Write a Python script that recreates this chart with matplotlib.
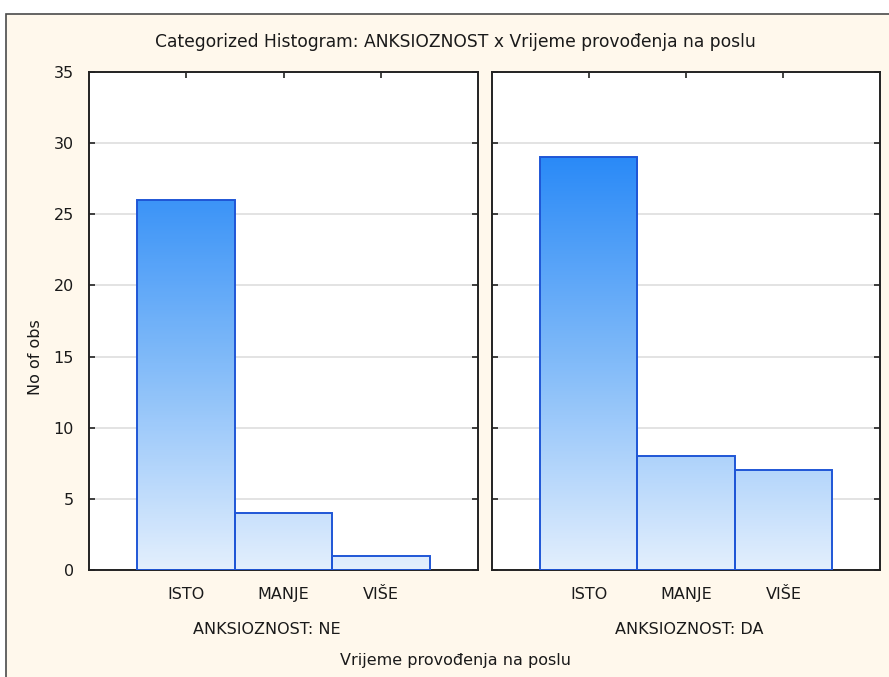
import numpy as np
import matplotlib
matplotlib.use("Agg")
import matplotlib.pyplot as plt
from matplotlib.colors import LinearSegmentedColormap
from matplotlib.patches import Rectangle

# Data
categories = ["ISTO", "MANJE", "VIŠE"]
counts_ne = [26, 4, 1]
counts_da = [29, 8, 7]
panel_labels = ["ANKSIOZNOST: NE", "ANKSIOZNOST: DA"]
yticks = [0, 5, 10, 15, 20, 25, 30, 35]

plt.rcParams["font.family"] = ["DejaVu Sans"]
plt.rcParams["font.size"] = 11.5
txt_color = "#1a1a1a"

# vertical gradient like the STATISTICA bars (light at 0, saturated at the tallest bar)
bar_cmap = LinearSegmentedColormap.from_list("statgrad", ["#e3effd", "#82bbf9", "#2a8af7"])
grad_top = max(counts_da + counts_ne)

fig = plt.figure(figsize=(8.89, 6.77), dpi=100)
fig.patch.set_facecolor("white")

# outer cream frame
frame = Rectangle((6 / 889, -0.05), 1.0, 1 - 14 / 677 + 0.05, transform=fig.transFigure,
                  facecolor="#fff8ec", edgecolor="#4a4a4a", linewidth=1.2, zorder=-5)
fig.patches.append(frame)

ax_ne = fig.add_axes([89 / 889, 1 - 570 / 677, (478 - 89) / 889, (570 - 72) / 677])
ax_da = fig.add_axes([492 / 889, 1 - 570 / 677, (880 - 492) / 889, (570 - 72) / 677])


def draw_panel(ax, counts, label, label_x, show_y):
    x = np.arange(len(categories))
    ax.set_facecolor("white")
    ax.set_yticks(yticks)
    ax.set_xticks(x)
    ax.set_xticklabels(categories, color=txt_color)
    ax.yaxis.grid(True, color="#dedede", linewidth=1.2, zorder=0)
    ax.set_axisbelow(True)
    for xi, h in zip(x, counts):
        grad = np.linspace(0, h / grad_top, 256).reshape(-1, 1)
        im = ax.imshow(grad, extent=(xi - 0.5, xi + 0.5, 0, h), origin="lower",
                       cmap=bar_cmap, vmin=0, vmax=1, aspect="auto", zorder=2)
        rect = Rectangle((xi - 0.5, 0), 1, h, facecolor="none",
                         edgecolor="#1f56d6", linewidth=1.4, zorder=3)
        ax.add_patch(rect)
        im.set_clip_path(rect)
    ax.set_xlim(-0.99, 2.99)
    ax.set_ylim(0, 35)
    ax.set_aspect("auto")
    ax.tick_params(axis="both", direction="in", length=4, width=1.2, color="#222222",
                   top=True, right=True, labelcolor=txt_color)
    ax.tick_params(axis="x", pad=12)
    ax.tick_params(axis="y", pad=11)
    if not show_y:
        ax.set_yticklabels([])
    for sp in ax.spines.values():
        sp.set_color("#222222")
        sp.set_linewidth(1.4)
    ax.text(label_x, -0.12, label, transform=ax.transAxes, ha="center", va="center",
            color=txt_color)


draw_panel(ax_ne, counts_ne, panel_labels[0], 0.456, True)
draw_panel(ax_da, counts_da, panel_labels[1], 0.508, False)

fig.text(0.512, 1 - 42 / 677, "Categorized Histogram: ANKSIOZNOST x Vrijeme provođenja na poslu",
         ha="center", va="center", color=txt_color, fontsize=12.3)
fig.text(0.512, 1 - 660 / 677, "Vrijeme provođenja na poslu", ha="center", va="center",
         color=txt_color)
fig.text(35 / 889, 1 - 357 / 677, "No of obs", rotation=90, ha="center", va="center",
         color=txt_color)

fig.savefig("out.png", dpi=100, facecolor=fig.get_facecolor())
